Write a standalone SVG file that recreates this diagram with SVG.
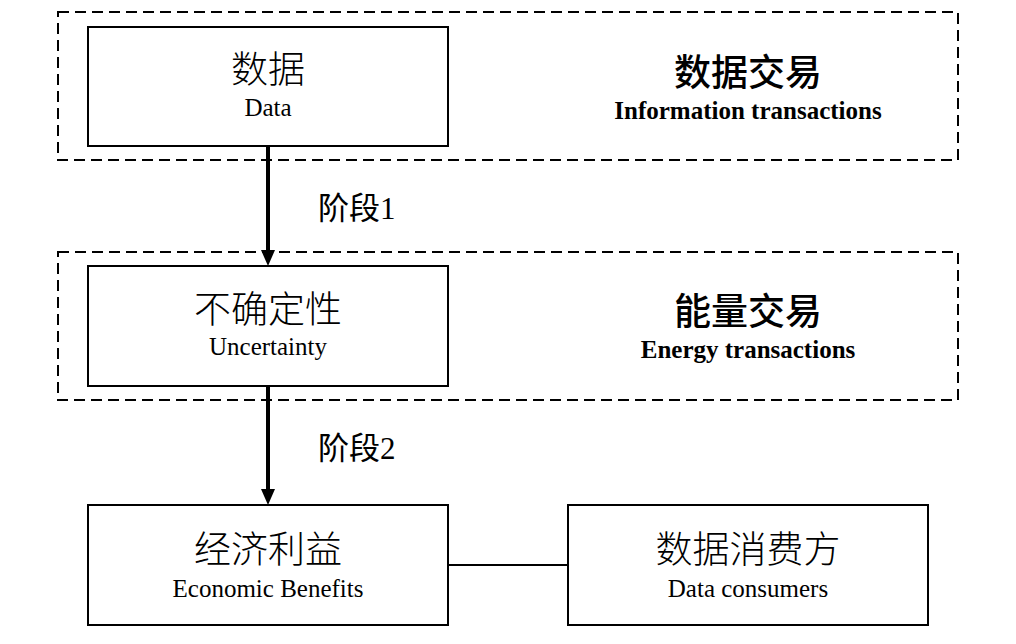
<svg xmlns="http://www.w3.org/2000/svg" width="1016" height="644" viewBox="0 0 1016 644">
<style>
.box{fill:#fff;stroke:#000;stroke-width:2}
.dash{fill:none;stroke:#000;stroke-width:2;stroke-dasharray:11 6}
.cn{font-family:"Noto Sans CJK SC",sans-serif;font-size:37px;font-weight:300;fill:#000;text-anchor:middle}
.en{font-family:"Liberation Serif",serif;font-size:25px;fill:#000;text-anchor:middle}
.hcn{font-family:"Noto Sans CJK SC",sans-serif;font-size:37px;font-weight:500;fill:#000;text-anchor:middle}
.hen{font-family:"Liberation Serif",serif;font-size:25px;font-weight:bold;fill:#000;text-anchor:middle}
.stage{font-family:"Liberation Serif","Noto Sans CJK SC",sans-serif;font-size:31px;fill:#000}
.line{stroke:#000;stroke-width:2;fill:none}
.arrow{stroke:#000;stroke-width:4;fill:none}
</style>
<rect width="1016" height="644" fill="#fff"/>
<g id="group-info">
<rect class="dash" x="58" y="12" width="900" height="148"/>
<text class="hcn" x="748" y="86">数据交易</text>
<text class="hen" x="748" y="119">Information transactions</text>
</g>
<g id="group-energy">
<rect class="dash" x="58" y="252" width="900" height="148"/>
<text class="hcn" x="748" y="325">能量交易</text>
<text class="hen" x="748" y="358">Energy transactions</text>
</g>
<g id="connectors">
<line class="arrow" x1="268" y1="146" x2="268" y2="251"/>
<path d="M261,250 L275,250 L268,266 Z" fill="#000"/>
<line class="arrow" x1="268" y1="386" x2="268" y2="490"/>
<path d="M261,489 L275,489 L268,505 Z" fill="#000"/>
<line class="line" x1="448" y1="565" x2="568" y2="565"/>
<text class="stage" x="318" y="219">阶段1</text>
<text class="stage" x="318" y="459">阶段2</text>
</g>
<g id="node-data">
<rect class="box" x="88" y="27" width="360" height="119"/>
<text class="cn" x="268" y="83">数据</text>
<text class="en" x="268" y="116">Data</text>
</g>
<g id="node-uncertainty">
<rect class="box" x="88" y="266" width="360" height="120"/>
<text class="cn" x="268" y="323">不确定性</text>
<text class="en" x="268" y="355">Uncertainty</text>
</g>
<g id="node-economic">
<rect class="box" x="88" y="505" width="360" height="120"/>
<text class="cn" x="268" y="563">经济利益</text>
<text class="en" x="268" y="597">Economic Benefits</text>
</g>
<g id="node-consumers">
<rect class="box" x="568" y="505" width="360" height="120"/>
<text class="cn" x="748" y="563">数据消费方</text>
<text class="en" x="748" y="597">Data consumers</text>
</g>
</svg>
